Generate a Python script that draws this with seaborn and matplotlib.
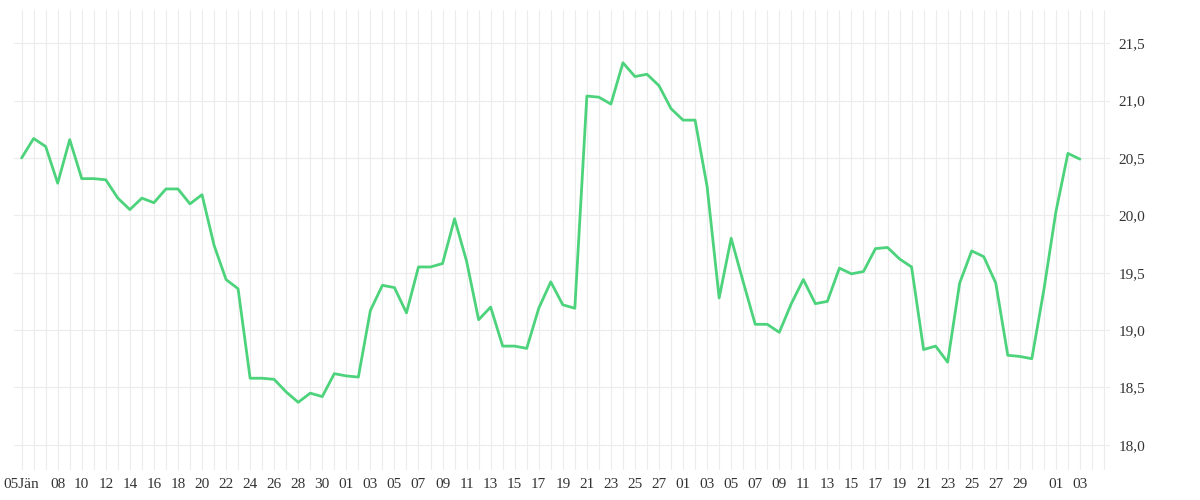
import numpy as np
import pandas as pd
import seaborn as sns
import matplotlib.pyplot as plt
import matplotlib.ticker as mticker

# daily values, 05 Jan - 03 Apr
values = [20.50, 20.67, 20.60, 20.28, 20.66, 20.32, 20.32, 20.31, 20.15, 20.05,
          20.15, 20.11, 20.23, 20.23, 20.10, 20.18, 19.74, 19.44, 19.36, 18.58,
          18.58, 18.57, 18.46, 18.37, 18.45, 18.42, 18.62, 18.60, 18.59, 19.17,
          19.39, 19.37, 19.15, 19.55, 19.55, 19.58, 19.97, 19.60, 19.09, 19.20,
          18.86, 18.86, 18.84, 19.19, 19.42, 19.22, 19.19, 21.04, 21.03, 20.97,
          21.33, 21.21, 21.23, 21.13, 20.93, 20.83, 20.83, 20.25, 19.28, 19.80,
          19.42, 19.05, 19.05, 18.98, 19.23, 19.44, 19.23, 19.25, 19.54, 19.49,
          19.51, 19.71, 19.72, 19.62, 19.55, 18.83, 18.86, 18.72, 19.41, 19.69,
          19.64, 19.41, 18.78, 18.77, 18.75, 19.35, 20.03, 20.54, 20.49]
dates = pd.date_range("2015-01-05", periods=len(values), freq="D")
df = pd.DataFrame({"date": dates, "value": values})

tick_dates = ["2015-01-05"] + [d.strftime("%Y-%m-%d") for d in pd.date_range("2015-01-08", "2015-01-30", freq="2D")] \
    + [d.strftime("%Y-%m-%d") for d in pd.date_range("2015-02-01", "2015-02-27", freq="2D")] \
    + [d.strftime("%Y-%m-%d") for d in pd.date_range("2015-03-01", "2015-03-29", freq="2D")] \
    + ["2015-04-01", "2015-04-03"]
tick_dates = pd.to_datetime(tick_dates)
tick_labels = ["05Jän"] + [d.strftime("%d") for d in tick_dates[1:]]
y_ticks = [18.0, 18.5, 19.0, 19.5, 20.0, 20.5, 21.0, 21.5]

sns.set_style("white")
plt.rcParams['font.family'] = ['Liberation Serif', 'DejaVu Serif']

fig, ax = plt.subplots(figsize=(12, 5), dpi=100)
fig.subplots_adjust(left=0.012, right=0.925, top=0.98, bottom=0.06)

sns.lineplot(data=df, x="date", y="value", color="#4cd37b", lw=2, ax=ax)

ax.set_xlim(dates[0] - pd.Timedelta(days=0.6), dates[-1] + pd.Timedelta(days=2.5))
ax.set_ylim(17.78, 21.79)
ax.xaxis.set_minor_locator(mticker.FixedLocator([mpl_d for mpl_d in plt.matplotlib.dates.date2num(
    pd.date_range(dates[0], dates[-1] + pd.Timedelta(days=2), freq="D"))]))
ax.set_xticks(tick_dates)
ax.set_xticklabels(tick_labels, fontsize=11, color="#333333")
ax.set_yticks(y_ticks)
ax.set_yticklabels([f"{v:.1f}".replace(".", ",") for v in y_ticks], fontsize=11, color="#333333")
ax.yaxis.tick_right()
ax.tick_params(length=0, pad=6)
ax.grid(True, which="both", axis="x", color="#ececec", lw=0.8)
ax.grid(True, which="major", axis="y", color="#ececec", lw=0.8)
ax.set_xlabel("")
ax.set_ylabel("")
for s in ax.spines.values():
    s.set_visible(False)

plt.savefig("out.png", dpi=100)
